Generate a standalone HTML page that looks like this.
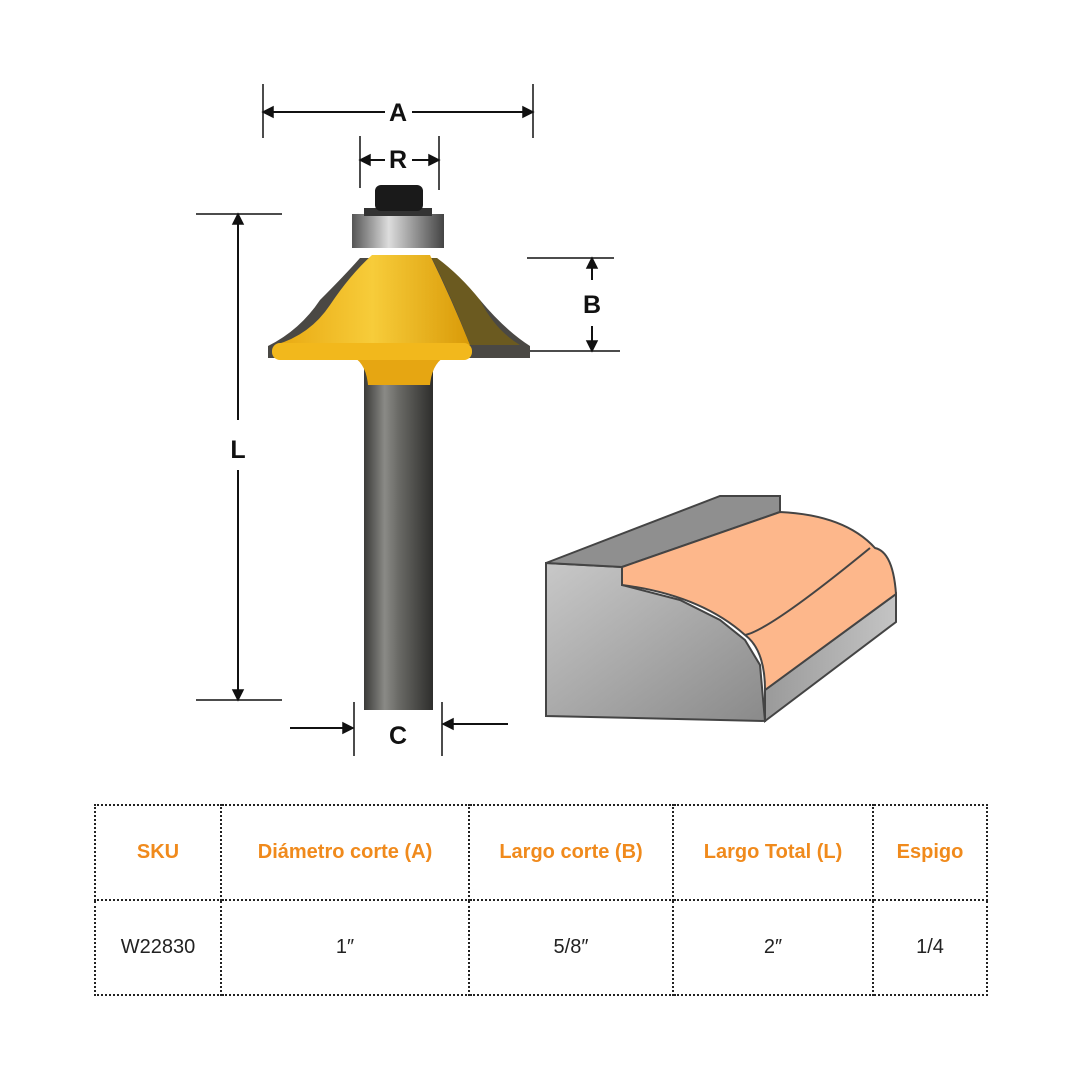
<!DOCTYPE html>
<html><head><meta charset="utf-8"><style>
html,body{margin:0;padding:0;background:#fff}
body{width:1080px;height:1080px;position:relative;overflow:hidden;font-family:"Liberation Sans",sans-serif}
table{position:absolute;left:94px;top:804px;border-collapse:collapse}
td{border:2px dotted #222;text-align:center;padding:0}
.h td{color:#f08a1c;font-weight:bold;font-size:20px;height:93px}
.v td{color:#222;font-size:20px;height:93px}
</style></head><body>
<svg width="1080" height="1080" style="position:absolute;left:0;top:0">
<defs>
<linearGradient id="sh" x1="0" x2="1"><stop offset="0" stop-color="#3a3a38"/><stop offset=".3" stop-color="#8a8a86"/><stop offset=".5" stop-color="#6a6a66"/><stop offset="1" stop-color="#2e2e2c"/></linearGradient>
<linearGradient id="br" x1="0" x2="1"><stop offset="0" stop-color="#555"/><stop offset=".4" stop-color="#ddd"/><stop offset="1" stop-color="#444"/></linearGradient>
<linearGradient id="ye" x1="0" x2="1"><stop offset="0" stop-color="#e8a810"/><stop offset=".5" stop-color="#f7cc3a"/><stop offset="1" stop-color="#d99a08"/></linearGradient>
<linearGradient id="gl" x1="0" x2="1" y1="0" y2="1"><stop offset="0" stop-color="#c8c8c8"/><stop offset="1" stop-color="#8a8a8a"/></linearGradient>
<linearGradient id="gr" x1="0" x2="1"><stop offset="0" stop-color="#9a9a9a"/><stop offset="1" stop-color="#c4c4c4"/></linearGradient>
</defs>
<g stroke="#111" stroke-width="1.5" fill="#111">
<line x1="263" y1="84" x2="263" y2="138"/><line x1="533" y1="84" x2="533" y2="138"/>
<line x1="265" y1="112" x2="385" y2="112" stroke-width="2"/><line x1="412" y1="112" x2="531" y2="112" stroke-width="2"/>
<polygon points="263,112 273,107 273,117"/><polygon points="533,112 523,107 523,117"/>
<line x1="360" y1="136" x2="360" y2="188"/><line x1="439" y1="136" x2="439" y2="190"/>
<line x1="362" y1="160" x2="385" y2="160" stroke-width="2"/><line x1="412" y1="160" x2="437" y2="160" stroke-width="2"/>
<polygon points="360,160 370,155 370,165"/><polygon points="439,160 429,155 429,165"/>
<line x1="196" y1="214" x2="282" y2="214"/><line x1="196" y1="700" x2="282" y2="700"/>
<line x1="238" y1="216" x2="238" y2="420" stroke-width="2"/><line x1="238" y1="470" x2="238" y2="698" stroke-width="2"/>
<polygon points="238,214 233,224 243,224"/><polygon points="238,700 233,690 243,690"/>
<line x1="527" y1="258" x2="614" y2="258"/><line x1="527" y1="351" x2="620" y2="351"/>
<line x1="592" y1="260" x2="592" y2="280" stroke-width="2"/><line x1="592" y1="326" x2="592" y2="349" stroke-width="2"/>
<polygon points="592,258 587,268 597,268"/><polygon points="592,351 587,341 597,341"/>
<line x1="354" y1="702" x2="354" y2="756"/><line x1="442" y1="702" x2="442" y2="756"/>
<line x1="290" y1="728" x2="350" y2="728" stroke-width="2"/><line x1="448" y1="724" x2="508" y2="724" stroke-width="2"/>
<polygon points="353,728 343,723 343,733"/><polygon points="443,724 453,719 453,729"/>
</g>
<g font-family="Liberation Sans,sans-serif" font-size="25" font-weight="bold" fill="#111" text-anchor="middle">
<text x="398" y="121">A</text><text x="398" y="168">R</text><text x="238" y="458">L</text><text x="592" y="313">B</text><text x="398" y="744">C</text>
</g>
<!-- router bit -->
<rect x="364" y="360" width="69" height="350" fill="url(#sh)"/>
<path d="M350,355 Q366,362 368,385 L430,385 Q432,362 448,355 Z" fill="#e6a612"/>
<path d="M268,346 Q300,330 320,300 Q345,275 360,258 L437,258 Q455,280 480,300 Q505,330 530,346 L530,358 L268,358 Z" fill="#4a4844"/>
<path d="M275,345 Q310,335 330,305 Q350,275 372,255 L430,255 Q452,300 470,345 Z" fill="url(#ye)"/>
<path d="M432,258 Q455,305 470,345 L520,345 Q495,330 480,300 Q460,275 437,258 Z" fill="#6b5a20"/>
<rect x="272" y="343" width="200" height="17" rx="8" fill="#f2b81c"/>
<rect x="352" y="214" width="92" height="34" fill="url(#br)"/>
<rect x="364" y="208" width="68" height="8" fill="#333"/>
<rect x="375" y="185" width="48" height="26" rx="6" fill="#1a1a1a"/>
<!-- profile block -->
<polygon points="546,563 622,567 622,585 680,600 720,620 745,640 760,665 765,721 546,716" fill="url(#gl)" stroke="#444" stroke-width="2"/>
<polygon points="765,690 896,594 896,622 765,721" fill="url(#gr)" stroke="#444" stroke-width="2"/>
<polygon points="546,563 720,496 780,496 780,512 622,567" fill="#8f8f8f" stroke="#444" stroke-width="2"/>
<path d="M622,567 L780,512 Q845,515 875,548 Q893,552 896,594 L765,690 Q765,650 745,635 Q700,595 622,585 Z" fill="#fdb78b" stroke="#444" stroke-width="2"/>
<path d="M745,635 Q770,630 870,548" fill="none" stroke="#444" stroke-width="2"/>
</svg>
<table>
<tr class="h"><td style="width:124px">SKU</td><td style="width:246px">Diámetro corte (A)</td><td style="width:202px">Largo corte (B)</td><td style="width:198px">Largo Total (L)</td><td style="width:112px">Espigo</td></tr>
<tr class="v"><td>W22830</td><td>1″</td><td>5/8″</td><td>2″</td><td>1/4</td></tr>
</table>
</body></html>
